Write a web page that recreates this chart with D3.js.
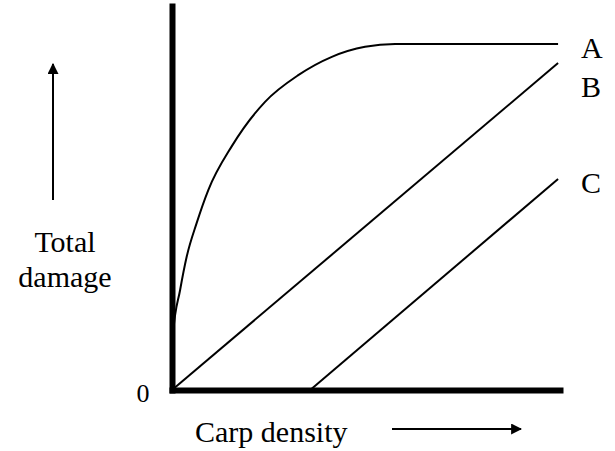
<!DOCTYPE html>
<html>
<head>
<meta charset="utf-8">
<script src="https://cdn.jsdelivr.net/npm/d3@7"></script>
<style>
  body { margin: 0; background: #fff; }
</style>
</head>
<body>
<div id="chart"></div>
<script>
// carp density (arbitrary units) and total damage
const curveAx = [0, 0.03, 0.21, 0.38, 0.64, 0.94, 1.55, 2.41, 3.27, 4.14, 5.0, 5.78, 10];
const curveAy = [0, 1.65, 2.89, 3.85, 4.83, 5.78, 7.05, 8.33, 9.10, 9.63, 9.92, 10, 10];
const lineBx = [0, 10];
const lineBy = [0, 9.45];
const lineCx = [3.58, 10];
const lineCy = [0, 6.1];
const seriesNames = ["A", "B", "C"];

const w = 615,
  h = 451;
const serif = "'Liberation Serif', 'Times New Roman', 'DejaVu Serif', serif";

const svg = d3.select("#chart").append("svg")
  .attr("width", w)
  .attr("height", h);

const x = d3.scaleLinear().domain([0, 10.05]).range([172, 560]);
const y = d3.scaleLinear().domain([0, 11.1]).range([390, 6]);

svg.append("defs")
  .append("marker")
  .attr("id", "arrow")
  .attr("viewBox", "0 0 10 10")
  .attr("refX", 9)
  .attr("refY", 5)
  .attr("markerWidth", 11)
  .attr("markerHeight", 11)
  .attr("markerUnits", "userSpaceOnUse")
  .attr("orient", "auto")
  .append("path")
  .attr("d", "M 0 0 L 10 5 L 0 10 z")
  .attr("fill", "#000");

// axes: just the heavy domain lines, no ticks
const yAxis = svg.append("g")
  .attr("transform", `translate(${x(0)},0)`)
  .call(d3.axisLeft(y).tickValues([]).tickSizeOuter(0));
const xAxis = svg.append("g")
  .attr("transform", `translate(0,${y(0)})`)
  .call(d3.axisBottom(x).tickValues([]).tickSizeOuter(0));
[yAxis, xAxis].forEach((g) => g.select(".domain")
  .attr("stroke", "#000")
  .attr("stroke-width", 6)
  .attr("stroke-linecap", "square"));

const series = [
  { name: seriesNames[0], pts: curveAx.map((v, i) => [v, curveAy[i]]) },
  { name: seriesNames[1], pts: lineBx.map((v, i) => [v, lineBy[i]]) },
  { name: seriesNames[2], pts: lineCx.map((v, i) => [v, lineCy[i]]) }
];

const line = d3.line()
  .x((d) => x(d[0]))
  .y((d) => y(d[1]))
  .curve(d3.curveMonotoneX);

svg.selectAll(".series")
  .data(series)
  .enter()
  .append("path")
  .attr("class", "series")
  .attr("d", (d) => line(d.pts))
  .attr("fill", "none")
  .attr("stroke", "#000")
  .attr("stroke-width", 2);

function label(xp, yp, str, size, anchor) {
  return svg.append("text")
    .attr("x", xp)
    .attr("y", yp)
    .attr("text-anchor", anchor || "start")
    .attr("font-family", serif)
    .attr("font-size", size)
    .attr("fill", "#000")
    .text(str);
}

// end labels A, B, C
const labelDy = [14, 34, 14];
series.forEach((d, i) => {
  const last = d.pts[d.pts.length - 1];
  label(x(last[0]) + 23, y(last[1]) + labelDy[i], d.name, 30);
});

// origin
label(143, 402, "0", 26, "middle");

// y title + arrow
label(65, 252, "Total", 30, "middle");
label(65, 287, "damage", 30, "middle");
svg.append("line")
  .attr("x1", 53).attr("y1", 200)
  .attr("x2", 53).attr("y2", 64)
  .attr("stroke", "#000")
  .attr("stroke-width", 2)
  .attr("marker-end", "url(#arrow)");

// x title + arrow
label(195, 442, "Carp density", 30);
svg.append("line")
  .attr("x1", 392).attr("y1", 429)
  .attr("x2", 521).attr("y2", 429)
  .attr("stroke", "#000")
  .attr("stroke-width", 2)
  .attr("marker-end", "url(#arrow)");
</script>
</body>
</html>
